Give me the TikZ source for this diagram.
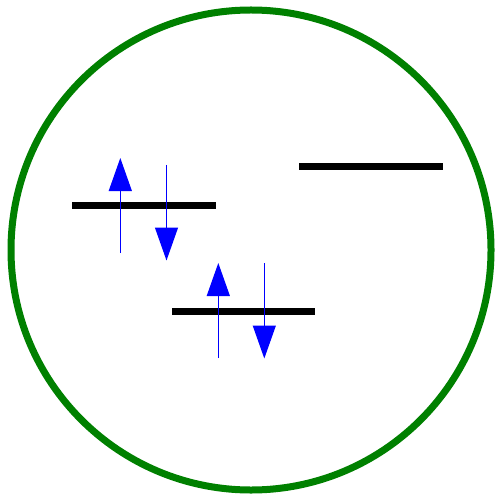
\documentclass[tikz,border=0pt]{standalone}
\usetikzlibrary{arrows.meta}
\definecolor{ringgreen}{RGB}{0,128,0}
\tikzset{
  level/.style={line width=7pt, black},
  spin/.style={blue, line width=1.2pt, -{Triangle[length=33pt, width=23pt]}},
  ring/.style={ringgreen, line width=7pt}
}
\begin{document}
\begin{tikzpicture}[x=1pt,y=-1pt]
\useasboundingbox (0,0) rectangle (494,494);
\draw[ring] (251,250) circle (240);
% levels
\coordinate (l1a) at (72,205); \coordinate (l1b) at (216,205);
\coordinate (l2a) at (299,166.5); \coordinate (l2b) at (443,166.5);
\coordinate (l3a) at (172,311); \coordinate (l3b) at (315,311);
\draw[level] (l1a) -- (l1b);
\draw[level] (l2a) -- (l2b);
\draw[level] (l3a) -- (l3b);
% spins
\coordinate (u1s) at (120.3,253); \coordinate (u1e) at (120.3,158);
\coordinate (d1s) at (166.5,165); \coordinate (d1e) at (166.5,260.5);
\coordinate (u2s) at (218.3,358); \coordinate (u2e) at (218.3,263);
\coordinate (d2s) at (264.3,263); \coordinate (d2e) at (264.3,358.5);
\draw[spin] (u1s) -- (u1e);
\draw[spin] (d1s) -- (d1e);
\draw[spin] (u2s) -- (u2e);
\draw[spin] (d2s) -- (d2e);
\end{tikzpicture}
\end{document}
